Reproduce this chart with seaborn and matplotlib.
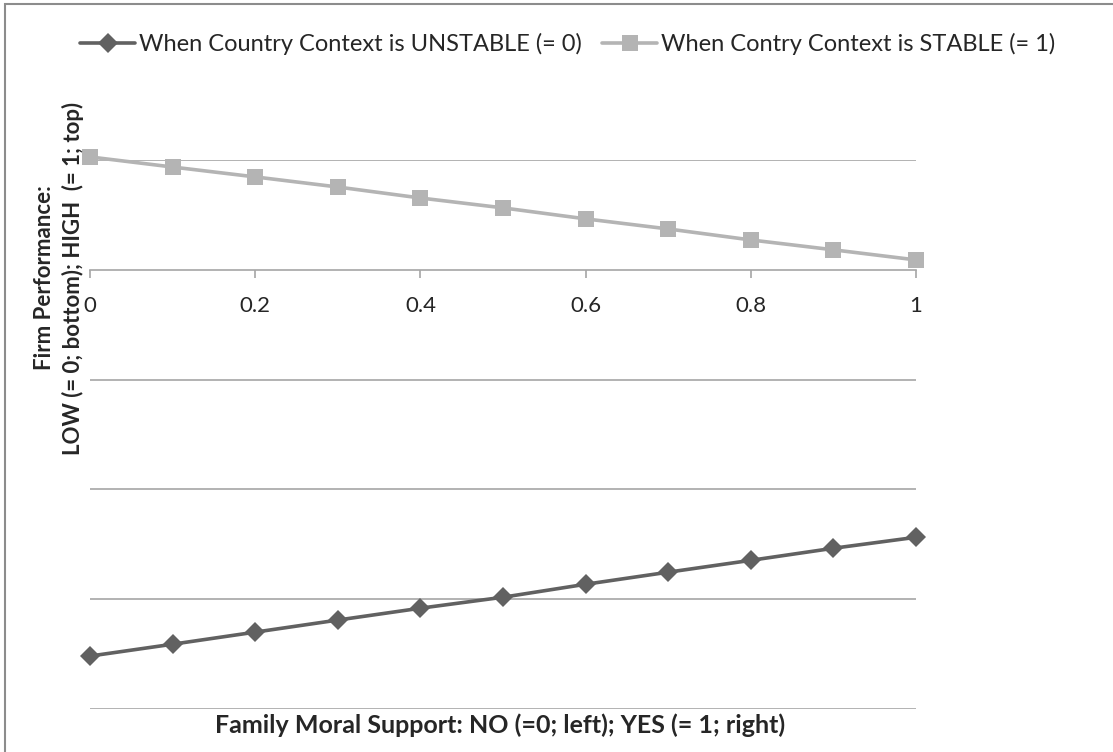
import matplotlib
matplotlib.use("Agg")
import matplotlib.pyplot as plt
from matplotlib.patches import Rectangle
import pandas as pd
import seaborn as sns

# family moral support (x) and predicted firm performance for each context
support = [0.0, 0.1, 0.2, 0.3, 0.4, 0.5, 0.6, 0.7, 0.8, 0.9, 1.0]
unstable = [-1.759, -1.705, -1.650, -1.595, -1.541, -1.491, -1.432, -1.377, -1.323, -1.268, -1.218]
stable = [0.514, 0.468, 0.423, 0.377, 0.327, 0.282, 0.232, 0.186, 0.136, 0.091, 0.045]
series_names = ["When Country Context is UNSTABLE (= 0)", "When Contry Context is STABLE (= 1)"]
x_ticks = [0, 0.2, 0.4, 0.6, 0.8, 1]
x_tick_labels = ["0", "0.2", "0.4", "0.6", "0.8", "1"]
y_grid = [0.5, 0.0, -0.5, -1.0, -1.5, -2.0]

df = pd.DataFrame({"support": support, "unstable": unstable, "stable": stable})

sns.set_style("white")
plt.rcParams["font.family"] = ["Lato", "DejaVu Sans"]

fig = plt.figure(figsize=(11.13, 7.52), dpi=100)
ax = fig.add_axes([90 / 1113, 43 / 752, 826 / 1113, 549 / 752])

sns.lineplot(data=df, x="support", y="unstable", ax=ax, color="#616161", marker="D",
             markersize=10, markeredgewidth=0, linewidth=2.6, label=series_names[0])
sns.lineplot(data=df, x="support", y="stable", ax=ax, color="#b4b4b4", marker="s",
             markersize=11.5, markeredgewidth=0, linewidth=2.6, label=series_names[1])
for ln in ax.lines:
    ln.set_clip_on(False)

ax.set_xlim(0, 1)
ax.set_ylim(-2.0, 0.5)
for g in y_grid:
    if g != 0.0:
        ax.axhline(g, color="#a6a6a6", linewidth=1.2, zorder=0)

for side in ["left", "right", "top"]:
    ax.spines[side].set_visible(False)
ax.spines["bottom"].set_position(("data", 0))
ax.spines["bottom"].set_color("#a6a6a6")
ax.spines["bottom"].set_linewidth(1.2)
ax.set_yticks([])
ax.set_xticks(x_ticks)
ax.set_xticklabels(x_tick_labels, fontsize=16)
ax.tick_params(axis="x", direction="out", length=6, width=1.2, color="#a6a6a6", pad=13, bottom=True)
ax.set_xlabel("")
ax.set_ylabel("")

fig.text(500 / 1113, 1 - 725 / 752, "Family Moral Support: NO (=0; left); YES (= 1; right)",
         ha="center", va="center", fontsize=18, fontweight="bold")
fig.text(59 / 1113, 1 - 278 / 752, "Firm Performance:\nLOW (= 0; bottom); HIGH  (= 1; top)",
         ha="center", va="center", rotation=90, fontsize=16, fontweight="bold",
         linespacing=1.35, multialignment="center")

handles, labels = ax.get_legend_handles_labels()
ax.legend(handles, labels, loc="center", bbox_to_anchor=(568 / 1113, 1 - 44 / 752),
          bbox_transform=fig.transFigure, ncol=2, frameon=False, fontsize=17,
          handlelength=2.3, handletextpad=0.2, columnspacing=0.85, borderaxespad=0)

fig.patches.append(Rectangle((5 / 1113, -0.1), 1.2, 1.1 - 4 / 752, transform=fig.transFigure,
                             fill=False, edgecolor="#8c8c8c", linewidth=1.5))

fig.savefig("out.png", dpi=100)
